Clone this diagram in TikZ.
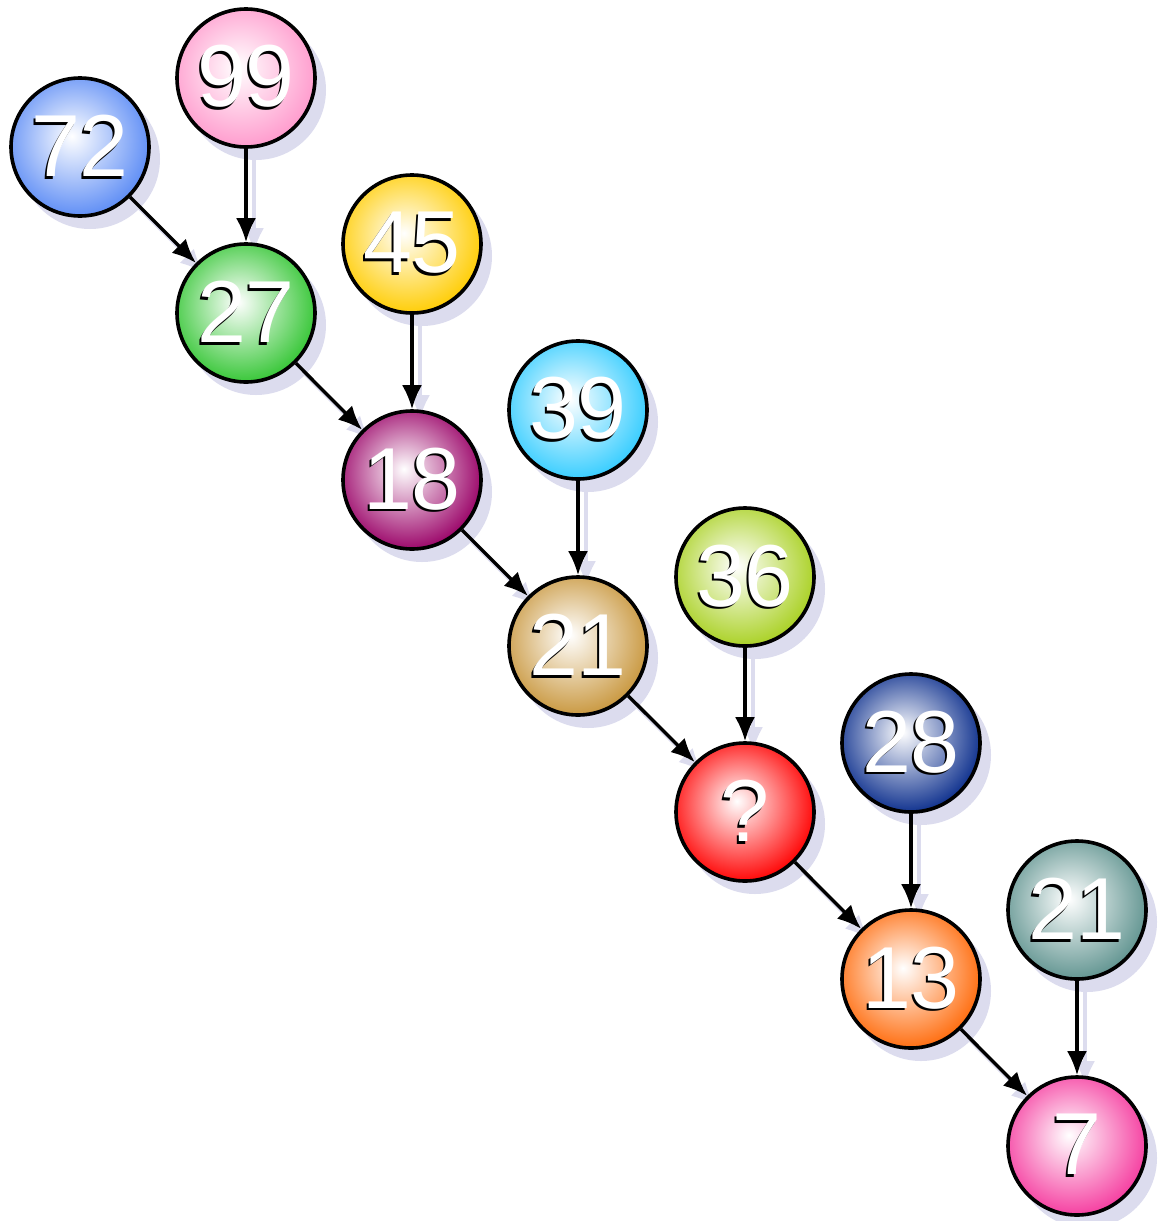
\documentclass[tikz,border=0pt]{standalone}
\usepackage{xcolor}
\usepackage{fontspec}
\setmainfont{Liberation Sans}
\usepackage{tikz}
\usetikzlibrary{arrows.meta,backgrounds}
\definecolor{shadowcol}{HTML}{DCDCEE}
\definecolor{ballblue}{HTML}{5B8BF5}
\definecolor{ballrose}{HTML}{FF99CC}
\definecolor{ballgreen}{HTML}{33C533}
\definecolor{ballgold}{HTML}{FFCC00}
\definecolor{ballplum}{HTML}{990066}
\definecolor{ballcyan}{HTML}{33CCFF}
\definecolor{balltan}{HTML}{C8963C}
\definecolor{balllime}{HTML}{A8D020}
\definecolor{ballred}{HTML}{FF0000}
\definecolor{ballnavy}{HTML}{0A2D8C}
\definecolor{ballorange}{HTML}{FF6A0A}
\definecolor{ballteal}{HTML}{5F938F}
\definecolor{ballpink}{HTML}{F53A9E}
\colorlet{ballcol}{ballblue}
\pgfdeclareradialshading[ballcol]{ballshade}{\pgfpoint{-3bp}{4bp}}{%
  color(0bp)=(white);
  color(28bp)=(ballcol);
  color(46bp)=(ballcol!85!black);
  color(56bp)=(ballcol!72!black)}
\tikzset{
  >=Latex,
  ball/.style={
    circle,
    draw=black,
    line width=1.8pt,
    minimum size=69pt,
    inner sep=0pt,
    /utils/exec={\colorlet{ballcol}{#1}},
    shading=ballshade,
    font=\fontsize{44}{44}\selectfont
  },
  ball shadow/.style={
    fill=shadowcol
  },
  link/.style={
    draw=black,
    line width=1.7pt,
    -{Latex[length=12pt,width=10pt]},
    preaction={draw=shadowcol, line width=1.7pt, -{Latex[length=12pt,width=10pt,color=shadowcol]},
      transform canvas={shift={(4pt,-5pt)}}}
  }
}
\newcommand{\ballnum}[1]{\leavevmode\rlap{\kern-1pt\raisebox{-1.3pt}{\color{black}#1}}\textcolor{white}{#1}}
\newcommand{\shadowballs}[1]{%
  \begin{scope}[on background layer]
    \foreach \b in {#1}{
      \fill[ball shadow] ([shift={(5pt,-6pt)}]\b.center) circle (35pt);
    }
  \end{scope}
}
\newcommand{\linkballs}[1]{%
  \begin{scope}[on background layer]
    \foreach \a/\b in {#1}{
      \draw[link] (\a) -- (\b);
    }
  \end{scope}
}

\begin{document}
\begin{tikzpicture}[x=0.5pt,y=-0.5pt]
  \useasboundingbox (0,0) rectangle (1158,1221);

  \node[ball=ballblue]   (B-72)  at (80,147)   {\ballnum{72}};
  \node[ball=ballrose]   (B-99)  at (246,78)   {\ballnum{99}};
  \node[ball=ballgreen]  (B-27)  at (246,313)  {\ballnum{27}};
  \node[ball=ballgold]   (B-45)  at (412,244)  {\ballnum{45}};
  \node[ball=ballplum]   (B-18)  at (412,480)  {\ballnum{18}};
  \node[ball=ballcyan]   (B-39)  at (578,410)  {\ballnum{39}};
  \node[ball=balltan]    (B-21a) at (578,646)  {\ballnum{21}};
  \node[ball=balllime]   (B-36)  at (745,577)  {\ballnum{36}};
  \node[ball=ballred]    (B-q)   at (745,812)  {\ballnum{?}};
  \node[ball=ballnavy]   (B-28)  at (911,743)  {\ballnum{28}};
  \node[ball=ballorange] (B-13)  at (911,979)  {\ballnum{13}};
  \node[ball=ballteal]   (B-21b) at (1077,910) {\ballnum{21}};
  \node[ball=ballpink]   (B-7)   at (1077,1146) {\ballnum{7}};

  \shadowballs{B-72,B-99,B-27,B-45,B-18,B-39,B-21a,B-36,B-q,B-28,B-13,B-21b,B-7}
  \linkballs{B-72/B-27,B-99/B-27,B-27/B-18,B-45/B-18,B-18/B-21a,B-39/B-21a,
    B-21a/B-q,B-36/B-q,B-q/B-13,B-28/B-13,B-13/B-7,B-21b/B-7}
\end{tikzpicture}
\end{document}
